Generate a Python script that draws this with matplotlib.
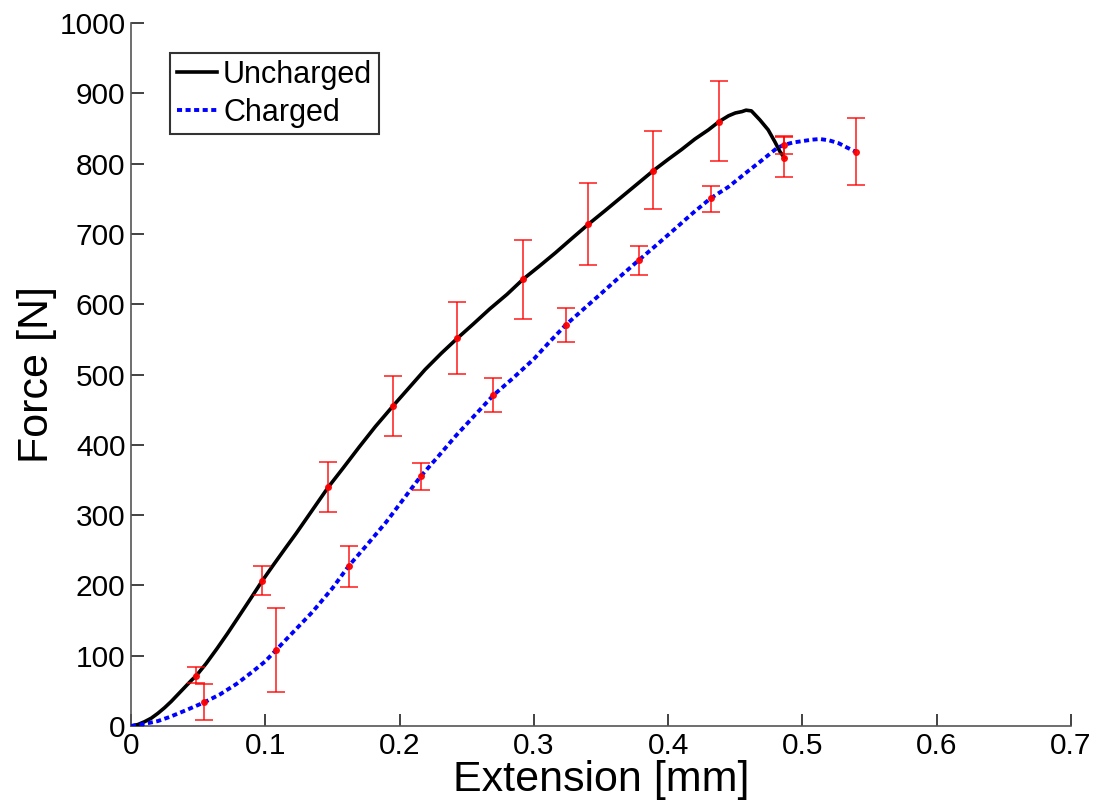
import matplotlib
matplotlib.use("Agg")
import matplotlib.pyplot as plt

# Uncharged curve (mm, N)
unch_x = [0.0, 0.005, 0.01, 0.015, 0.02, 0.025, 0.03, 0.035, 0.04, 0.045, 0.0486, 0.056, 0.064,
          0.072, 0.08, 0.089, 0.0978, 0.106, 0.115, 0.123, 0.131, 0.139, 0.147, 0.158, 0.17,
          0.182, 0.195, 0.207, 0.219, 0.231, 0.243, 0.255, 0.267, 0.28, 0.2919, 0.304, 0.316,
          0.328, 0.3405, 0.353, 0.365, 0.377, 0.389, 0.40, 0.41, 0.42, 0.43, 0.4378, 0.445,
          0.45, 0.455, 0.458, 0.462, 0.4684, 0.4745, 0.4795, 0.4833, 0.4865]
unch_y = [0.0, 2, 6, 11, 18, 26, 35, 45, 55, 65, 71.5, 89, 110,
          132, 155, 181, 206.7, 229, 253, 274, 296, 318, 340, 367, 397,
          426, 455, 481, 507, 530, 551.5, 572, 593, 614, 635.4, 654, 673,
          693, 713.6, 733, 752, 771, 790, 806, 820, 835, 848, 859.6, 868,
          872, 874, 876, 875, 862, 848, 831, 817, 808.4]
unch_ex = [0.0486, 0.0978, 0.147, 0.195, 0.243, 0.2919, 0.3405, 0.389, 0.4378, 0.4865]
unch_ey = [71.5, 206.7, 340, 455, 551.5, 635.4, 713.6, 790, 859.6, 808.4]
unch_lo = [61, 187, 305, 412, 500.7, 579, 655.8, 735, 803, 780.5]
unch_hi = [84, 227.6, 376, 498, 603.6, 692, 773, 846, 917, 839]

# Charged curve (mm, N)
ch_x = [0.0, 0.01, 0.02, 0.029, 0.0414, 0.0546, 0.0663, 0.0787, 0.091, 0.1, 0.108, 0.12, 0.135,
        0.15, 0.1621, 0.175, 0.19, 0.203, 0.2157, 0.229, 0.242, 0.256, 0.2698, 0.284, 0.3,
        0.312, 0.3237, 0.337, 0.35, 0.364, 0.378, 0.39, 0.405, 0.418, 0.4316, 0.445, 0.46,
        0.47, 0.481, 0.486, 0.493, 0.5, 0.507, 0.513, 0.52, 0.527, 0.533, 0.5396]
ch_y = [0.0, 3, 7, 13, 22.8, 33.7, 45, 60, 78, 92, 108, 132, 162,
        196, 227.6, 256, 290, 323, 355, 384, 413, 442, 470.4, 494, 522,
        547, 570.4, 593, 615, 639, 662.4, 682, 707, 729, 750.6, 767, 790,
        805, 822, 826.5, 830, 832, 834, 835, 833, 829, 823, 817]
ch_ex = [0.0546, 0.108, 0.1621, 0.2157, 0.2698, 0.3237, 0.378, 0.4316, 0.486, 0.5396]
ch_ey = [33.7, 108, 227.6, 355, 470.4, 570.4, 662.4, 750.6, 826.5, 817]
ch_lo = [8.5, 48.8, 197.7, 335.7, 446.6, 546, 641, 731.6, 813, 769.6]
ch_hi = [59.7, 168, 256, 374.5, 495, 595, 683, 768, 838, 864.4]

x_ticks = [0, 0.1, 0.2, 0.3, 0.4, 0.5, 0.6, 0.7]
x_tick_labels = ["0", "0.1", "0.2", "0.3", "0.4", "0.5", "0.6", "0.7"]
y_ticks = [0, 100, 200, 300, 400, 500, 600, 700, 800, 900, 1000]

plt.rcParams['font.family'] = ['Liberation Sans', 'DejaVu Sans']

fig = plt.figure(figsize=(10.99, 8.10), dpi=100)
ax = fig.add_axes([0.1192, 0.1037, 0.9745 - 0.1192, 0.9716 - 0.1037])

ax.plot(unch_x, unch_y, color='black', lw=2.6, label='Uncharged', zorder=3)
ax.plot(ch_x, ch_y, color='#0000ff', lw=2.8, linestyle=(0, (1.3, 0.9)),
        label='Charged', zorder=3)

def errs(y, lo, hi):
    return [[yy - l for yy, l in zip(y, lo)], [h - yy for yy, h in zip(y, hi)]]

ax.errorbar(unch_ex, unch_ey, yerr=errs(unch_ey, unch_lo, unch_hi), fmt='o', color='#ff0000',
            ms=4, lw=1.1, capsize=6.5, capthick=1.1, zorder=4, alpha=0.9)
ax.errorbar(ch_ex, ch_ey, yerr=errs(ch_ey, ch_lo, ch_hi), fmt='o', color='#ff0000',
            ms=4, lw=1.1, capsize=6.5, capthick=1.1, zorder=4, alpha=0.9)

ax.set_xlim(0, 0.7)
ax.set_ylim(0, 1000)
ax.set_xticks(x_ticks)
ax.set_xticklabels(x_tick_labels)
ax.set_yticks(y_ticks)

for s in ['top', 'right']:
    ax.spines[s].set_visible(False)
for s in ['left', 'bottom']:
    ax.spines[s].set_color('#555555')
    ax.spines[s].set_linewidth(1.2)
ax.tick_params(direction='in', length=9, width=1.2, color='#222222', labelsize=21.5, pad=4)

ax.set_xlabel('Extension [mm]', fontsize=31, labelpad=0)
ax.set_ylabel('Force [N]', fontsize=31, labelpad=2)

leg = ax.legend(loc='upper left', bbox_to_anchor=(0.042, 0.957), fontsize=22, frameon=True,
                fancybox=False, handlelength=1.3, handletextpad=0.2, borderpad=0.22,
                labelspacing=0.25, borderaxespad=0)
leg.get_frame().set_edgecolor('black')
leg.get_frame().set_linewidth(1.5)

fig.savefig('out.png', dpi=100)
